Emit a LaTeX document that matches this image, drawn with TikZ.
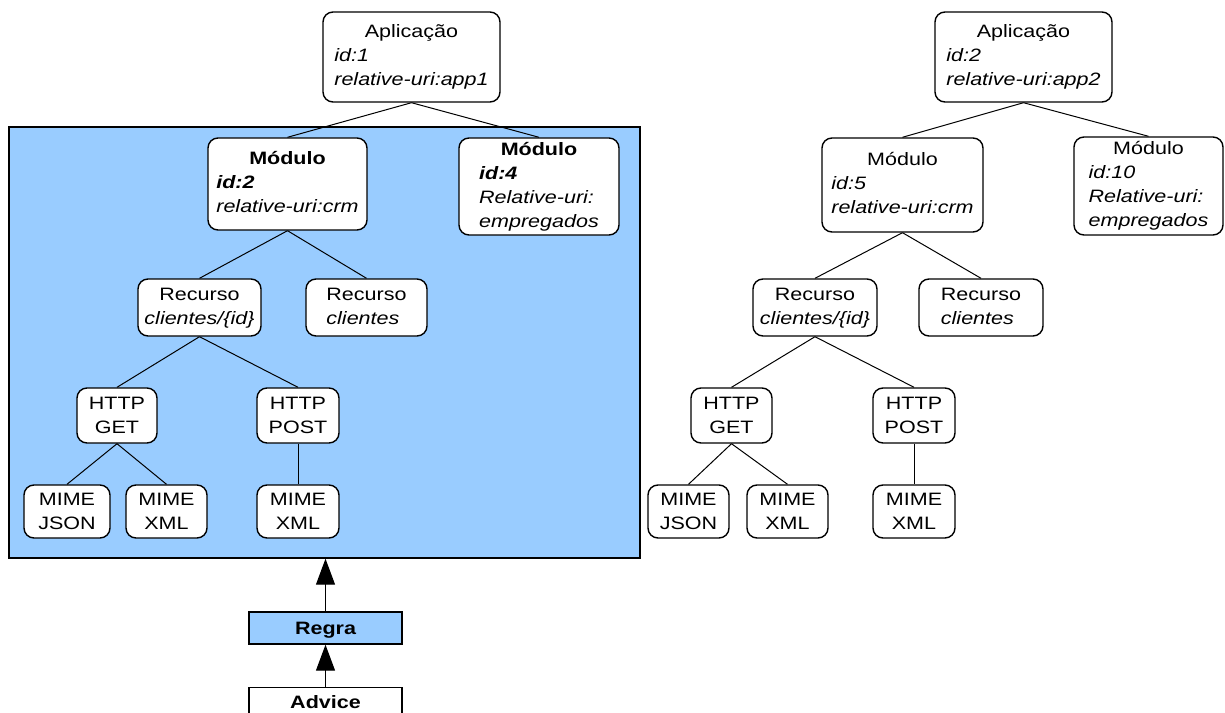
\documentclass[tikz,border=0pt]{standalone}
\usepackage{fontspec}
\setmainfont{Liberation Sans}[FakeStretch=1.2]
\usetikzlibrary{arrows.meta}
\definecolor{groupblue}{HTML}{99CCFF}
% heading centred over left-aligned detail lines
\newcommand\boxlines[2]{\begin{tabular}{@{}l@{}}\multicolumn{1}{@{}c@{}}{#1}\\#2\end{tabular}}
\begin{document}
\begin{tikzpicture}[x=1bp,y=-1bp,
  box/.style={draw=black, line width=1.4bp, rounded corners=10bp, fill=white,
    inner sep=0pt, align=center, font=\fontsize{18}{24}\selectfont},
  rulebox/.style={draw=black, line width=1.4bp, inner xsep=0pt, inner ysep=8bp,
    minimum width=153bp, text height=13bp, text depth=0pt,
    font=\fontsize{18}{24}\selectfont\bfseries},
  edge/.style={draw=black, line width=1bp},
  uparrow/.style={draw=black, line width=1.2bp, -{Triangle[length=26bp,width=19bp]}}
]
\clip (0,0) rectangle (1225,713);

% highlighted module
\node[draw=black, line width=1.4bp, fill=groupblue, minimum width=631bp,
  minimum height=431bp, inner sep=0pt] (group) at (324.5,342.5) {};

% first application
\node[box, minimum width=177bp, minimum height=90bp] (app1) at (411.5,57)
  {\boxlines{Aplicação}{\textit{id:1}\\ \textit{relative-uri:app1}}};
\node[box, minimum width=159bp, minimum height=92bp] (mod2) at (287.5,184)
  {\boxlines{\textbf{Módulo}}{\textbf{\textit{id:2}}\\ \textit{relative-uri:crm}}};
\node[box, minimum width=160bp, minimum height=97bp] (mod4) at (539,186.5)
  {\boxlines{\textbf{Módulo}}{\textbf{\textit{id:4}}\\ \textit{Relative-uri:}\\ \textit{empregados}}};
\node[box, minimum width=123bp, minimum height=57bp] (recL1) at (199.5,307.5)
  {\boxlines{Recurso}{\textit{clientes/\{id\}}}};
\node[box, minimum width=121bp, minimum height=57bp] (recL2) at (366.5,307.5)
  {\boxlines{Recurso}{\textit{clientes}}};
\node[box, minimum width=80bp, minimum height=55bp] (getL) at (117,415.5) {HTTP\\GET};
\node[box, minimum width=82bp, minimum height=55bp] (postL) at (298,415.5) {HTTP\\POST};
\node[box, minimum width=86bp, minimum height=53bp] (jsonL) at (67,511.5) {MIME\\JSON};
\node[box, minimum width=81bp, minimum height=53bp] (xmlL) at (166.5,511.5) {MIME\\XML};
\node[box, minimum width=82bp, minimum height=53bp] (xmlPL) at (298,511.5) {MIME\\XML};

% second application
\node[box, minimum width=177bp, minimum height=90bp] (app2) at (1023.5,57)
  {\boxlines{Aplicação}{\textit{id:2}\\ \textit{relative-uri:app2}}};
\node[box, minimum width=161bp, minimum height=94bp] (mod5) at (902.5,185)
  {\boxlines{Módulo}{\textit{id:5}\\ \textit{relative-uri:crm}}};
\node[box, minimum width=149bp, minimum height=98bp] (mod10) at (1148.5,186)
  {\boxlines{Módulo}{\textit{id:10}\\ \textit{Relative-uri:}\\ \textit{empregados}}};
\node[box, minimum width=124bp, minimum height=57bp] (recR1) at (815,307.5)
  {\boxlines{Recurso}{\textit{clientes/\{id\}}}};
\node[box, minimum width=124bp, minimum height=57bp] (recR2) at (981,307.5)
  {\boxlines{Recurso}{\textit{clientes}}};
\node[box, minimum width=81bp, minimum height=55bp] (getR) at (731.5,415.5) {HTTP\\GET};
\node[box, minimum width=82bp, minimum height=55bp] (postR) at (914,415.5) {HTTP\\POST};
\node[box, minimum width=81bp, minimum height=53bp] (jsonR) at (688.5,511.5) {MIME\\JSON};
\node[box, minimum width=81bp, minimum height=53bp] (xmlR) at (787.5,511.5) {MIME\\XML};
\node[box, minimum width=82bp, minimum height=53bp] (xmlPR) at (914,511.5) {MIME\\XML};

% rule and advice
\node[rulebox, fill=groupblue, minimum height=32bp, inner ysep=0pt] (regra) at (325.5,628) {Regra};
\node[rulebox, fill=white, anchor=north] (advice) at (325.5,687) {Advice};

% tree edges
\draw[edge] (app1.south) -- (mod2.north);
\draw[edge] (app1.south) -- (mod4.north);
\draw[edge] (mod2.south) -- (recL1.north);
\draw[edge] (mod2.south) -- (recL2.north);
\draw[edge] (recL1.south) -- (getL.north);
\draw[edge] (recL1.south) -- (postL.north);
\draw[edge] (getL.south) -- (jsonL.north);
\draw[edge] (getL.south) -- (xmlL.north);
\draw[edge] (postL.south) -- (xmlPL.north);

\draw[edge] (app2.south) -- (mod5.north);
\draw[edge] (app2.south) -- (mod10.north);
\draw[edge] (mod5.south) -- (recR1.north);
\draw[edge] (mod5.south) -- (recR2.north);
\draw[edge] (recR1.south) -- (getR.north);
\draw[edge] (recR1.south) -- (postR.north);
\draw[edge] (getR.south) -- (jsonR.north);
\draw[edge] (getR.south) -- (xmlR.north);
\draw[edge] (postR.south) -- (xmlPR.north);

% arrows
\draw[uparrow] (regra.north) -- (regra.north |- group.south);
\draw[uparrow] (advice.north) -- (regra.south);
\end{tikzpicture}
\end{document}
